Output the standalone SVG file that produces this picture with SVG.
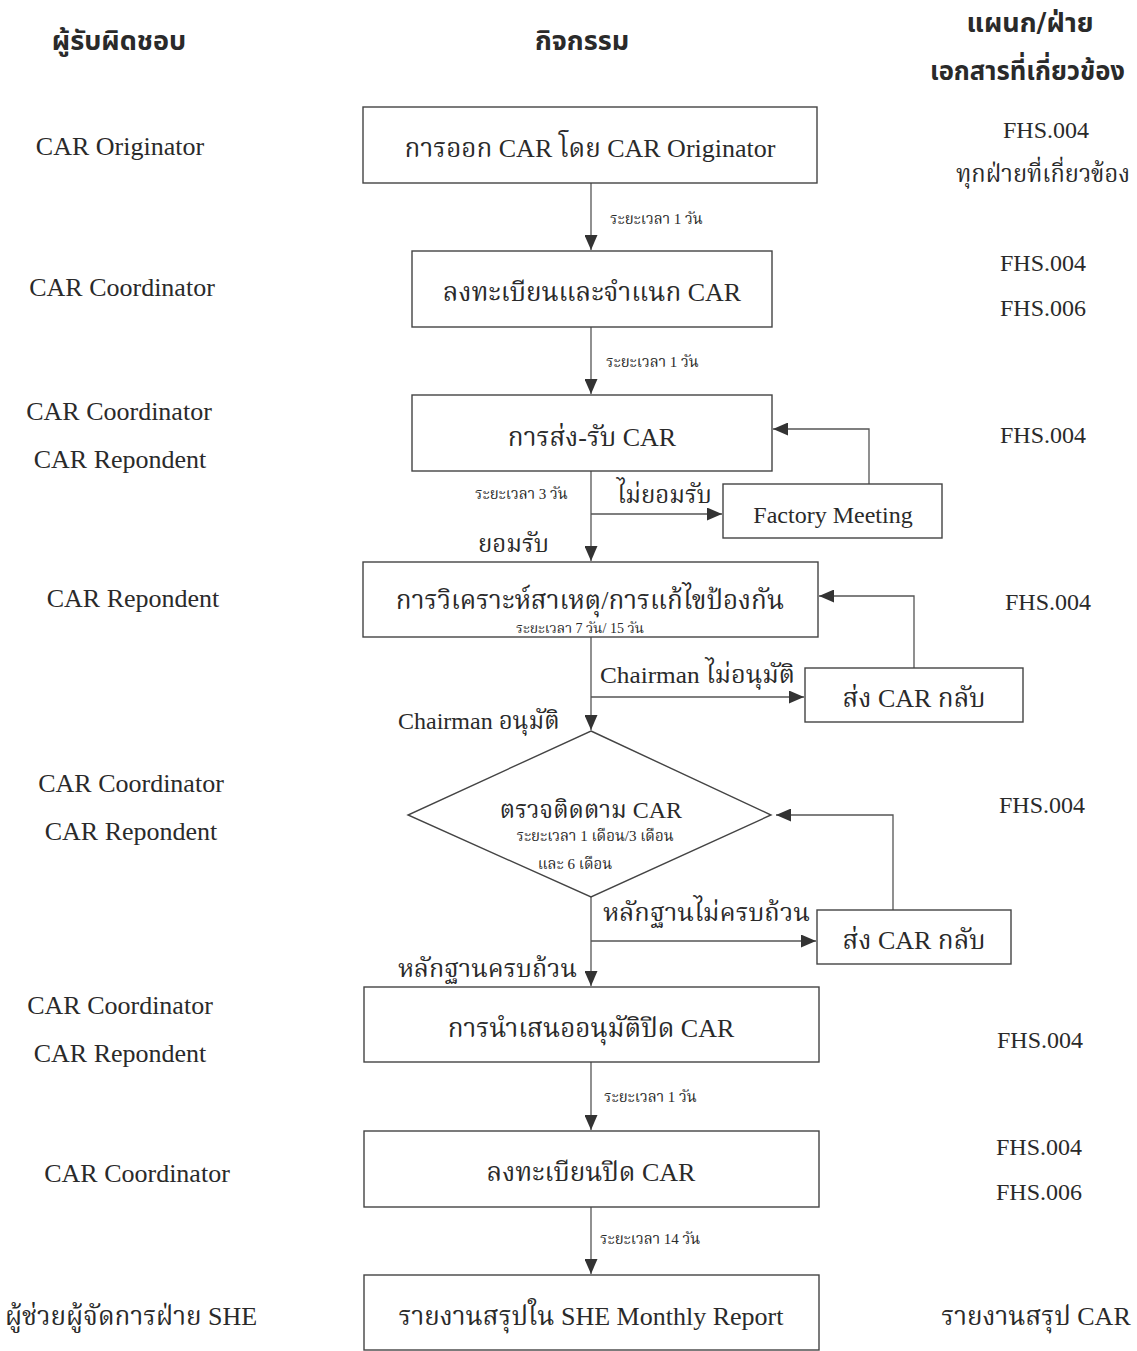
<svg xmlns="http://www.w3.org/2000/svg" width="1137" height="1351" viewBox="0 0 1137 1351">
<defs>
<marker id="ah" markerWidth="15" markerHeight="13" refX="15" refY="6.5" orient="auto" markerUnits="userSpaceOnUse">
<path d="M0,0 L15,6.5 L0,13 Z" fill="#333"/>
</marker>
<style>
.box{fill:#fff;stroke:#444;stroke-width:1.4}
.ln{fill:none;stroke:#555;stroke-width:1.3}
.t{font-family:"Liberation Serif","Noto Serif Thai","Noto Sans Thai",serif;fill:#2a2a2a}
.big{font-size:26px}
.mid{font-size:24px}
.sm{font-size:15px}
.hd{font-family:"DejaVu Sans","Noto Sans Thai",sans-serif;font-weight:bold;font-size:27px;fill:#2a2a2a}
.c{text-anchor:middle}
</style>
</defs>
<rect width="1137" height="1351" fill="#fff"/>

<g id="headers">
<text class="hd c" x="119" y="50">ผู้รับผิดชอบ</text>
<text class="hd c" x="582" y="50">กิจกรรม</text>
<text class="hd c" x="1030" y="32">แผนก/ฝ่าย</text>
<text class="hd" x="930" y="80" textLength="195" lengthAdjust="spacingAndGlyphs">เอกสารที่เกี่ยวข้อง</text>
</g>

<g id="responsible">
<text class="t big c" x="120" y="155">CAR Originator</text>
<text class="t big c" x="122" y="296">CAR Coordinator</text>
<text class="t big c" x="119" y="420">CAR Coordinator</text>
<text class="t big c" x="120" y="468">CAR Repondent</text>
<text class="t big c" x="133" y="607">CAR Repondent</text>
<text class="t big c" x="131" y="792">CAR Coordinator</text>
<text class="t big c" x="131" y="840">CAR Repondent</text>
<text class="t big c" x="120" y="1014">CAR Coordinator</text>
<text class="t big c" x="120" y="1062">CAR Repondent</text>
<text class="t big c" x="137" y="1182">CAR Coordinator</text>
<text class="t big c" x="131" y="1325">ผู้ช่วยผู้จัดการฝ่าย SHE</text>
</g>

<g id="documents">
<text class="t mid c" x="1046" y="138">FHS.004</text>
<text class="t mid" x="956" y="182" textLength="174" lengthAdjust="spacingAndGlyphs">ทุกฝ่ายที่เกี่ยวข้อง</text>
<text class="t mid c" x="1043" y="271">FHS.004</text>
<text class="t mid c" x="1043" y="316">FHS.006</text>
<text class="t mid c" x="1043" y="443">FHS.004</text>
<text class="t mid c" x="1048" y="610">FHS.004</text>
<text class="t mid c" x="1042" y="813">FHS.004</text>
<text class="t mid c" x="1040" y="1048">FHS.004</text>
<text class="t mid c" x="1039" y="1155">FHS.004</text>
<text class="t mid c" x="1039" y="1200">FHS.006</text>
<text class="t big c" x="1036" y="1325">รายงานสรุป CAR</text>
</g>

<g id="connectors">
<line class="ln" x1="591" y1="183" x2="591" y2="250" marker-end="url(#ah)"/>
<line class="ln" x1="591" y1="327" x2="591" y2="394" marker-end="url(#ah)"/>
<line class="ln" x1="591" y1="471" x2="591" y2="561" marker-end="url(#ah)"/>
<line class="ln" x1="591" y1="514" x2="722" y2="514" marker-end="url(#ah)"/>
<polyline class="ln" points="869,484 869,429 773,429" marker-end="url(#ah)"/>
<line class="ln" x1="591" y1="637" x2="591" y2="730" marker-end="url(#ah)"/>
<line class="ln" x1="591" y1="697" x2="804" y2="697" marker-end="url(#ah)"/>
<polyline class="ln" points="914,668 914,596 819,596" marker-end="url(#ah)"/>
<line class="ln" x1="591" y1="897" x2="591" y2="986" marker-end="url(#ah)"/>
<line class="ln" x1="591" y1="941" x2="816" y2="941" marker-end="url(#ah)"/>
<polyline class="ln" points="893,910 893,815 776,815" marker-end="url(#ah)"/>
<line class="ln" x1="591" y1="1062" x2="591" y2="1130" marker-end="url(#ah)"/>
<line class="ln" x1="591" y1="1207" x2="591" y2="1274" marker-end="url(#ah)"/>
<text class="t sm" x="610" y="224">ระยะเวลา 1 วัน</text>
<text class="t sm" x="606" y="367">ระยะเวลา 1 วัน</text>
<text class="t sm" x="475" y="499">ระยะเวลา 3 วัน</text>
<text class="t mid" x="617" y="503">ไม่ยอมรับ</text>
<text class="t mid" x="478" y="552">ยอมรับ</text>
<text class="t mid" x="600" y="683" textLength="195" lengthAdjust="spacingAndGlyphs">Chairman ไม่อนุมัติ</text>
<text class="t mid" x="398" y="729">Chairman อนุมัติ</text>
<text class="t mid" x="603" y="921" textLength="207" lengthAdjust="spacingAndGlyphs">หลักฐานไม่ครบถ้วน</text>
<text class="t mid" x="398" y="977" textLength="179" lengthAdjust="spacingAndGlyphs">หลักฐานครบถ้วน</text>
<text class="t sm" x="604" y="1102">ระยะเวลา 1 วัน</text>
<text class="t sm" x="600" y="1244">ระยะเวลา 14 วัน</text>
</g>

<g id="n1">
<rect class="box" x="363" y="107" width="454" height="76"/>
<text class="t big c" x="590" y="157">การออก CAR โดย CAR Originator</text>
</g>
<g id="n2">
<rect class="box" x="412" y="251" width="360" height="76"/>
<text class="t big c" x="592" y="301">ลงทะเบียนและจำแนก CAR</text>
</g>
<g id="n3">
<rect class="box" x="412" y="395" width="360" height="76"/>
<text class="t big c" x="592" y="446">การส่ง-รับ CAR</text>
</g>
<g id="n-factory">
<rect class="box" x="723" y="484" width="219" height="54"/>
<text class="t mid c" x="833" y="523">Factory Meeting</text>
</g>
<g id="n4">
<rect class="box" x="363" y="562" width="455" height="75"/>
<text class="t big c" x="590" y="609">การวิเคราะห์สาเหตุ/การแก้ไขป้องกัน</text>
<text class="t c" style="font-size:14px" x="580" y="633">ระยะเวลา 7 วัน/ 15 วัน</text>
</g>
<g id="n-return1">
<rect class="box" x="805" y="668" width="218" height="54"/>
<text class="t big c" x="914" y="707">ส่ง CAR กลับ</text>
</g>
<g id="n5">
<polygon class="box" points="591,731 771,815 591,897 408,815"/>
<text class="t mid c" x="591" y="818">ตรวจติดตาม CAR</text>
<text class="t sm c" x="595" y="841">ระยะเวลา 1 เดือน/3 เดือน</text>
<text class="t sm c" x="575" y="869">และ  6 เดือน</text>
</g>
<g id="n-return2">
<rect class="box" x="817" y="910" width="194" height="54"/>
<text class="t big c" x="914" y="949">ส่ง CAR กลับ</text>
</g>
<g id="n6">
<rect class="box" x="364" y="987" width="455" height="75"/>
<text class="t big c" x="591" y="1037">การนำเสนออนุมัติปิด CAR</text>
</g>
<g id="n7">
<rect class="box" x="364" y="1131" width="455" height="76"/>
<text class="t big c" x="591" y="1181">ลงทะเบียนปิด CAR</text>
</g>
<g id="n8">
<rect class="box" x="364" y="1275" width="455" height="75"/>
<text class="t big c" x="591" y="1325">รายงานสรุปใน SHE Monthly Report</text>
</g>
</svg>
